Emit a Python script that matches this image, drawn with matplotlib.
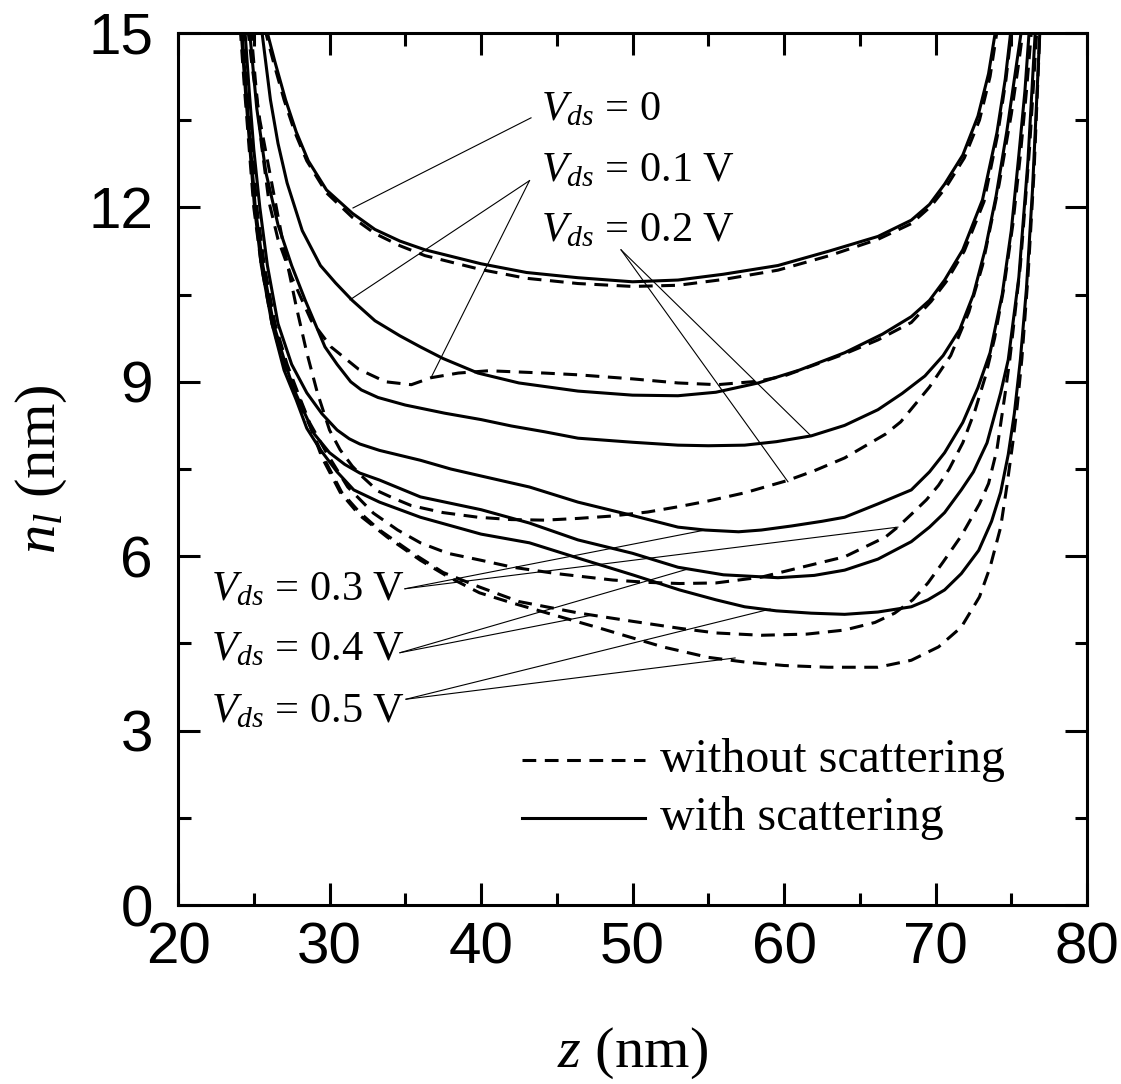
import matplotlib
matplotlib.use('Agg')
import matplotlib.pyplot as plt

plt.rcParams['mathtext.fontset'] = 'custom'
plt.rcParams['mathtext.rm'] = 'Liberation Serif'
plt.rcParams['mathtext.it'] = 'Liberation Serif:italic'

# n_l(z) profiles, solid = with scattering, dashed = without scattering
z_s0 = [25.8, 26.4, 27.1, 27.8, 28.6, 29.8, 31.5, 33.0, 34.65, 36.3, 40, 43, 46.4, 50, 53, 56, 59.6, 63, 66.2, 68.4, 69.6, 70.6, 71.8, 72.8, 73.5, 74.0]
n_s0 = [15.1, 14.5, 13.85, 13.3, 12.8, 12.3, 11.9, 11.62, 11.42, 11.27, 11.03, 10.88, 10.79, 10.72, 10.75, 10.85, 11.0, 11.25, 11.5, 11.78, 12.05, 12.4, 12.9, 13.57, 14.3, 15.1]
z_d0 = [25.7, 26.3, 27.0, 27.7, 28.5, 29.8, 31.5, 33, 34.65, 36.3, 40, 43, 46.4, 50, 53, 56, 59.6, 63, 66.2, 68.4, 69.7, 70.7, 71.9, 72.9, 73.6, 74.1]
n_d0 = [15.1, 14.5, 13.85, 13.3, 12.8, 12.25, 11.83, 11.55, 11.34, 11.17, 10.93, 10.78, 10.69, 10.64, 10.66, 10.76, 10.92, 11.17, 11.45, 11.72, 12.02, 12.35, 12.85, 13.5, 14.25, 15.1]

z_s1 = [25.5, 26.1, 26.6, 27.2, 28.2, 29.4, 30.4, 31.5, 33, 34.65, 36, 37.5, 39.8, 42.5, 46.4, 50, 53, 55.5, 58.3, 61, 64, 66.5, 68.4, 69.6, 70.6, 71.8, 73.1, 74.05, 74.6, 75.0]
n_s1 = [15.1, 13.85, 13.1, 12.42, 11.6, 11.0, 10.7, 10.4, 10.05, 9.79, 9.6, 9.4, 9.15, 8.98, 8.84, 8.77, 8.76, 8.82, 8.98, 9.2, 9.5, 9.82, 10.12, 10.4, 10.75, 11.27, 12.13, 13.28, 14.2, 15.1]
z_d1 = [24.8, 25.1, 25.5, 26.0, 26.6, 27.5, 28.8, 30.1, 31.9, 33.7, 35.4, 36.7, 38.5, 40.5, 44.2, 46.4, 50, 53, 55.6, 58.3, 60, 61.8, 64, 66.2, 68.4, 69.7, 70.7, 71.9, 73.2, 74.1, 74.65, 75.05]
n_d1 = [15.1, 14.2, 13.1, 12.1, 11.45, 10.8, 10.05, 9.6, 9.22, 9.0, 8.95, 9.07, 9.15, 9.19, 9.15, 9.12, 9.05, 8.98, 8.95, 9.01, 9.1, 9.27, 9.48, 9.72, 10.02, 10.38, 10.72, 11.25, 12.1, 13.25, 14.2, 15.1]

z_s2 = [24.7, 25.2, 25.8, 26.6, 27.5, 28.4, 29.7, 30.5, 31.4, 32.1, 33.2, 35, 37.6, 40, 42, 44.2, 46.4, 50, 53, 55, 57.4, 59.5, 61.8, 64, 66.2, 67.8, 69.3, 70.5, 71.6, 72.5, 73.3, 74.0, 74.7, 75.2, 75.7]
n_s2 = [15.1, 13.7, 12.6, 11.7, 11.0, 10.4, 9.6, 9.3, 9.0, 8.86, 8.73, 8.6, 8.46, 8.35, 8.24, 8.14, 8.03, 7.96, 7.91, 7.9, 7.91, 7.97, 8.07, 8.25, 8.52, 8.8, 9.1, 9.45, 9.9, 10.5, 11.3, 12.2, 13.3, 14.2, 15.1]
z_d2 = [24.6, 24.9, 25.4, 26.2, 27.0, 27.8, 28.5, 29.2, 30, 30.7, 31.5, 32.2, 33.2, 34.2, 35.4, 37.5, 39.8, 42, 44.2, 46.4, 48.6, 51, 53, 55, 57.4, 60.2, 62, 64, 66.7, 67.7, 69.6, 71.0, 72.2, 73.1, 74.2, 75.0, 75.5, 75.8]
n_d2 = [15.1, 14.4, 13.5, 12.4, 11.3, 10.3, 9.5, 8.81, 8.17, 7.83, 7.55, 7.36, 7.12, 7.0, 6.87, 6.75, 6.67, 6.63, 6.62, 6.65, 6.69, 6.76, 6.85, 6.95, 7.09, 7.3, 7.47, 7.69, 8.1, 8.31, 8.91, 9.45, 10.2, 11.0, 12.4, 13.6, 14.5, 15.1]

z_s3 = [24.4, 24.7, 25.0, 25.4, 25.9, 26.6, 27.5, 28.5, 29.5, 30.5, 31.3, 32, 33.3, 36, 38, 40, 43.2, 46.4, 50, 53, 54.8, 57, 58.5, 60.5, 62.5, 64, 66.2, 68.4, 69.6, 70.6, 71.8, 72.8, 73.6, 74.4, 75.0, 75.5, 75.9, 76.2]
n_s3 = [15.1, 14.0, 13.0, 12.0, 11.0, 10.0, 9.3, 8.81, 8.45, 8.17, 8.02, 7.93, 7.82, 7.65, 7.5, 7.38, 7.19, 6.93, 6.7, 6.5, 6.45, 6.42, 6.45, 6.52, 6.6, 6.67, 6.9, 7.14, 7.45, 7.78, 8.3, 8.9, 9.5, 10.5, 11.6, 12.9, 14.0, 15.1]
z_d3 = [24.3, 24.6, 24.9, 25.2, 25.7, 26.4, 27.2, 28.0, 28.7, 29.8, 31.2, 32.9, 34.5, 36, 37.8, 40, 42.1, 45, 48.7, 51, 53.1, 55.5, 58.5, 61, 64, 66.7, 67.5, 68.4, 69.4, 70.2, 70.9, 71.8, 72.6, 73.3, 73.9, 74.5, 75.1, 75.6, 76.0, 76.35]
n_d3 = [15.1, 14.0, 13.0, 12.0, 11.0, 10.0, 9.3, 8.75, 8.29, 7.78, 7.19, 6.74, 6.45, 6.23, 6.05, 5.93, 5.81, 5.7, 5.59, 5.55, 5.53, 5.54, 5.64, 5.8, 5.99, 6.33, 6.5, 6.72, 6.97, 7.22, 7.5, 7.95, 8.5, 9.1, 9.75, 10.6, 11.7, 12.9, 14.0, 15.1]

z_s4 = [24.2, 24.5, 24.8, 25.1, 25.6, 26.3, 27.1, 27.6, 28.25, 29.0, 30, 31, 32, 33.3, 36, 40, 43.2, 46.4, 50, 53, 56, 59.6, 62, 64, 66.2, 68.4, 69.6, 70.6, 71.7, 72.5, 73.4, 74.3, 74.8, 75.5, 76.1, 76.6]
n_s4 = [15.1, 14.0, 13.0, 12.0, 11.0, 10.0, 9.3, 8.9, 8.52, 8.1, 7.78, 7.58, 7.43, 7.31, 7.02, 6.8, 6.57, 6.28, 6.05, 5.81, 5.68, 5.63, 5.67, 5.76, 5.95, 6.25, 6.5, 6.75, 7.14, 7.45, 7.95, 8.81, 9.38, 10.8, 12.8, 15.1]
z_d4 = [24.2, 24.5, 24.8, 25.1, 25.6, 26.3, 27.1, 27.9, 28.6, 29.6, 30.8, 32, 33.3, 35.5, 37.5, 39.9, 42.5, 46.5, 50, 53.1, 55.5, 58.5, 61.5, 64, 66, 67.3, 68.5, 69.5, 70.5, 71.7, 72.9, 73.5, 74.05, 74.6, 74.9, 75.6, 76.2, 76.7]
n_d4 = [15.1, 14.0, 13.0, 12.0, 11.0, 10.0, 9.3, 8.7, 8.3, 7.7, 7.1, 6.75, 6.45, 6.05, 5.72, 5.47, 5.22, 5.02, 4.88, 4.76, 4.68, 4.64, 4.66, 4.73, 4.86, 5.02, 5.25, 5.54, 5.9, 6.35, 6.9, 7.25, 7.83, 8.81, 9.38, 11.0, 13.0, 15.1]

z_s5 = [24.15, 24.45, 24.75, 25.05, 25.5, 26.2, 27.0, 27.8, 28.5, 29.4, 30.5, 31.6, 33.3, 36, 40, 43.2, 46.5, 50, 53.1, 55.5, 57.4, 59.5, 61.8, 64, 66.2, 68.4, 69.5, 70.6, 71.7, 72.85, 73.7, 74.3, 74.8, 75.2, 75.6, 76.0, 76.4, 76.9]
n_s5 = [15.1, 14.0, 13.0, 12.0, 11.0, 10.0, 9.2, 8.69, 8.2, 7.83, 7.45, 7.14, 6.93, 6.67, 6.38, 6.23, 5.96, 5.68, 5.42, 5.25, 5.13, 5.06, 5.02, 5.0, 5.04, 5.13, 5.25, 5.42, 5.7, 6.1, 6.6, 7.1, 7.75, 8.45, 9.38, 10.6, 12.3, 15.1]
z_d5 = [24.1, 24.4, 24.7, 25.0, 25.5, 26.2, 27.0, 27.8, 28.5, 29.5, 30.7, 32, 33.8, 36, 37.8, 39.9, 42, 44.4, 48, 52, 55, 57.4, 60, 62.9, 66.2, 68.4, 70.2, 71.7, 72.9, 73.6, 74.3, 74.7, 75.1, 75.4, 75.7, 76.1, 76.5, 76.9]
n_d5 = [15.1, 14.0, 13.0, 12.0, 11.0, 10.0, 9.3, 8.85, 8.4, 7.7, 7.1, 6.7, 6.33, 5.93, 5.65, 5.37, 5.2, 5.02, 4.75, 4.44, 4.26, 4.18, 4.12, 4.09, 4.09, 4.21, 4.44, 4.78, 5.3, 5.81, 6.5, 7.19, 7.95, 8.6, 9.4, 10.8, 12.6, 15.1]

solid = [(z_s0, n_s0), (z_s1, n_s1), (z_s2, n_s2), (z_s3, n_s3), (z_s4, n_s4), (z_s5, n_s5)]
dashed = [(z_d0, n_d0), (z_d1, n_d1), (z_d2, n_d2), (z_d3, n_d3), (z_d4, n_d4), (z_d5, n_d5)]

# labels: text, text anchor (baseline-left), leader start, leader ends on the curves
labels = [
    (r'$V_{ds}$ = 0', (43.96, 13.49), (43.3, 13.54), [(31.55, 11.99)]),
    (r'$V_{ds}$ = 0.1 V', (43.96, 12.45), (43.2, 12.46), [(31.35, 10.41), (36.7, 9.07)]),
    (r'$V_{ds}$ = 0.2 V', (43.96, 11.42), (49.24, 11.27), [(61.78, 8.07), (60.26, 7.28)]),
    (r'$V_{ds}$ = 0.3 V', (22.18, 5.25), (34.98, 5.44), [(54.79, 6.45), (67.52, 6.5)]),
    (r'$V_{ds}$ = 0.4 V', (22.18, 4.21), (34.65, 4.34), [(53.66, 5.78), (47.39, 4.99)]),
    (r'$V_{ds}$ = 0.5 V', (22.18, 3.15), (35.05, 3.54), [(59.08, 5.09), (56.77, 4.25)]),
]

fig = plt.figure(figsize=(11.21, 10.84), dpi=100)
ax = fig.add_axes([0.1588, 0.1651, 0.8109, 0.8045])

lw = 2.2
for z, n in solid:
    ax.plot(z, n, color='k', lw=lw, solid_joinstyle='round')
for z, n in dashed:
    ax.plot(z, n, color='k', lw=lw, dashes=(4.5, 2.8))

serif = 'Liberation Serif'
for txt, pos, start, ends in labels:
    ax.text(pos[0], pos[1], txt, family=serif, fontsize=30.5, ha='left', va='baseline')
    for e in ends:
        ax.plot([start[0], e[0]], [start[1], e[1]], color='k', lw=0.8)

# legend drawn by hand
ax.plot([42.7, 50.8], [2.49, 2.49], color='k', lw=lw, dashes=(4.5, 2.8))
ax.plot([42.7, 50.8], [1.5, 1.5], color='k', lw=lw)
ax.text(51.8, 2.49, 'without scattering', family=serif, fontsize=34.5, va='center')
ax.text(51.8, 1.5, 'with scattering', family=serif, fontsize=34.5, va='center')

ax.set_xlim(20, 80)
ax.set_ylim(0, 15)
ax.set_xticks([20, 30, 40, 50, 60, 70, 80])
ax.set_xticks([25, 35, 45, 55, 65, 75], minor=True)
ax.set_yticks([0, 3, 6, 9, 12, 15])
ax.set_yticks([1.5, 4.5, 7.5, 10.5, 13.5], minor=True)
ax.tick_params(which='both', direction='in', top=True, right=True, width=2.2)
ax.tick_params(which='major', length=16)
ax.tick_params(axis='x', which='major', pad=12)
ax.tick_params(axis='y', which='major', pad=18)
ax.tick_params(which='minor', length=9)
for lab in ax.get_xticklabels() + ax.get_yticklabels():
    lab.set_family('Liberation Sans')
    lab.set_fontsize(42)
for sp in ax.spines.values():
    sp.set_linewidth(2.2)

ax.set_xlabel(r'$z$ (nm)', family=serif, fontsize=42, labelpad=36)
ax.set_ylabel(r'$n_l$ (nm)', family=serif, fontsize=42, labelpad=14)

fig.savefig('out.png', dpi=100)
